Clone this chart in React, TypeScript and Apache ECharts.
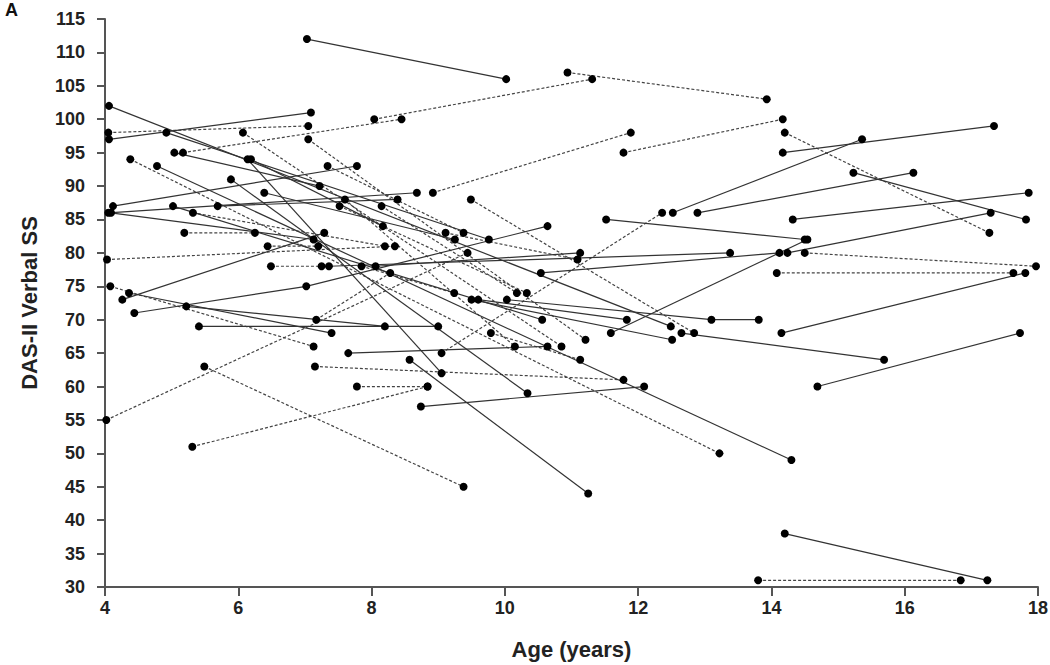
import React, { useEffect, useRef } from "react";
import * as echarts from "echarts";

type Pt = [number, number];

// Subjects drawn with solid lines: [age, DAS-II Verbal SS]
const solidSubjects: Pt[][] = [
  [[7.03, 112], [10.02, 106]],
  [[4.06, 97], [7.09, 101]],
  [[14.2, 38], [17.24, 31]],
  [[4.05, 86], [8.68, 89]],
  [[12.52, 86], [15.36, 97]],
  [[14.17, 95], [17.34, 99]],
  [[12.89, 86], [16.13, 92]],
  [[4.44, 71], [7.02, 75], [10.64, 84]],
  [[4.12, 87], [7.78, 93]],
  [[4.36, 74], [7.4, 68]],
  [[4.26, 73], [7.29, 83]],
  [[11.59, 68], [14.54, 82]],
  [[11.52, 85], [14.5, 82]],
  [[14.32, 85], [17.86, 89]],
  [[14.24, 80], [17.29, 86]],
  [[15.23, 92], [17.82, 85]],
  [[10.54, 77], [14.12, 80]],
  [[14.15, 68], [17.81, 77]],
  [[14.69, 60], [17.73, 68]],
  [[12.65, 68], [15.69, 64]],
  [[10.03, 73], [13.1, 70], [13.81, 70]],
  [[8.74, 57], [12.09, 60]],
  [[4.78, 93], [14.3, 49]],
  [[5.89, 91], [10.34, 59]],
  [[6.14, 94], [9.05, 62]],
  [[4.92, 98], [9.76, 82]],
  [[5.02, 87], [10.56, 70]],
  [[4.06, 102], [12.49, 69]],
  [[5.04, 95], [7.22, 90]],
  [[6.19, 94], [8.17, 84]],
  [[6.39, 89], [9.25, 82]],
  [[5.69, 87], [8.39, 88]],
  [[4.09, 86], [7.13, 82]],
  [[7.36, 78], [13.38, 80]],
  [[5.22, 72], [8.2, 69]],
  [[5.41, 69], [9.0, 69]],
  [[7.65, 65], [10.64, 66]],
  [[8.57, 64], [11.25, 44]],
  [[8.06, 78], [11.13, 80]],
  [[9.6, 73], [11.83, 70]],
  [[9.5, 73], [12.51, 67]],
];

// Subjects drawn with dotted lines
const dottedSubjects: Pt[][] = [
  [[10.94, 107], [13.93, 103]],
  [[5.17, 95], [8.45, 100]],
  [[8.04, 100], [11.31, 106]],
  [[4.05, 98], [7.05, 99]],
  [[13.8, 31], [16.84, 31]],
  [[4.02, 55], [9.44, 80]],
  [[5.31, 51], [8.84, 60]],
  [[5.49, 63], [9.38, 45]],
  [[8.92, 89], [11.89, 98]],
  [[11.78, 95], [14.17, 100]],
  [[14.2, 98], [17.27, 83]],
  [[9.05, 65], [12.36, 86]],
  [[4.08, 75], [7.13, 66]],
  [[14.5, 80], [17.97, 78]],
  [[14.08, 77], [17.63, 77]],
  [[9.49, 88], [12.84, 68]],
  [[4.38, 94], [13.22, 50]],
  [[4.03, 79], [8.35, 81]],
  [[7.15, 63], [11.78, 61]],
  [[7.78, 60], [8.84, 60]],
  [[6.07, 98], [10.85, 66]],
  [[7.05, 97], [11.21, 67]],
  [[7.34, 93], [9.38, 83]],
  [[7.6, 88], [10.15, 66]],
  [[7.52, 87], [10.33, 74]],
  [[8.15, 87], [10.18, 74]],
  [[5.32, 86], [8.2, 81]],
  [[5.19, 83], [6.25, 83]],
  [[6.44, 81], [7.2, 81]],
  [[6.49, 78], [7.25, 78]],
  [[9.79, 68], [11.13, 64]],
  [[9.11, 83], [11.09, 79]],
  [[7.85, 78], [9.24, 74]],
  [[7.17, 70], [8.28, 77]],
];

const xTicks = { min: 4, max: 18, interval: 2 };
const yTicks = { min: 30, max: 115, interval: 5 };

const FONT = "'Liberation Sans', Arial, sans-serif";

export default function App() {
  const ref = useRef<HTMLDivElement>(null);

  useEffect(() => {
    if (!ref.current) return;
    const chart = echarts.init(ref.current, undefined, { renderer: "svg" });

    const mk = (pts: Pt[], dotted: boolean) => ({
      type: "line",
      data: pts,
      symbol: "circle",
      symbolSize: 8,
      showSymbol: true,
      itemStyle: { color: "#000" },
      lineStyle: dotted
        ? { color: "#444", width: 1.2, type: [3, 2] }
        : { color: "#333", width: 1.2, type: "solid" },
      emphasis: { disabled: true },
      silent: true,
      z: 2,
    });

    const series = [
      ...dottedSubjects.map((s) => mk(s, true)),
      ...solidSubjects.map((s) => mk(s, false)),
    ];

    const axisLineStyle = { color: "#555", width: 2 };
    const labelStyle = {
      fontFamily: FONT,
      fontWeight: "bold" as const,
      fontSize: 18,
      color: "#222",
    };

    chart.setOption({
      animation: false,
      backgroundColor: "#fff",
      grid: {
        left: 105,
        right: 12,
        top: 19,
        bottom: 78,
        containLabel: false,
        outerBoundsMode: "none",
      },
      xAxis: {
        type: "value",
        min: xTicks.min,
        max: xTicks.max,
        interval: xTicks.interval,
        axisLine: { show: true, onZero: false, lineStyle: axisLineStyle },
        axisTick: { show: true, inside: false, length: 9, lineStyle: axisLineStyle },
        splitLine: { show: false },
        axisLabel: { ...labelStyle, margin: 12 },
        name: "Age (years)",
        nameLocation: "middle",
        nameGap: 51,
        nameTextStyle: { fontFamily: FONT, fontWeight: "bold", fontSize: 22, color: "#222" },
      },
      yAxis: {
        type: "value",
        min: yTicks.min,
        max: yTicks.max,
        interval: yTicks.interval,
        axisLine: { show: true, onZero: false, lineStyle: axisLineStyle },
        axisTick: { show: true, inside: false, length: 8, lineStyle: axisLineStyle },
        splitLine: { show: false },
        axisLabel: { ...labelStyle, margin: 20 },
        name: "DAS-II Verbal SS",
        nameLocation: "middle",
        nameGap: 65,
        nameRotate: 90,
        nameTextStyle: { fontFamily: FONT, fontWeight: "bold", fontSize: 22, color: "#222" },
      },
      graphic: [
        {
          type: "text",
          left: 5,
          top: 1,
          style: { text: "A", fontFamily: FONT, fontWeight: "bold", fontSize: 18, fill: "#111" },
        },
      ],
      series,
    });

    return () => chart.dispose();
  }, []);

  return (
    <div
      ref={ref}
      style={{ position: "fixed", left: 0, top: 0, width: 1050, height: 665, background: "#fff" }}
    />
  );
}
